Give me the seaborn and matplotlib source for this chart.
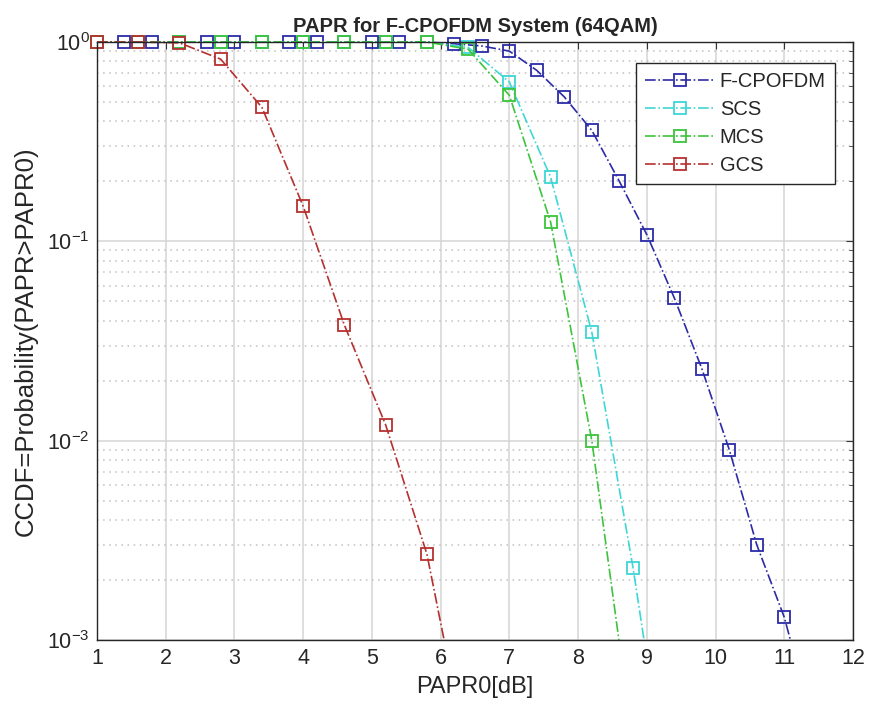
import matplotlib
matplotlib.use("Agg")
import matplotlib.pyplot as plt
import seaborn as sns
from matplotlib.ticker import LogLocator, NullFormatter, FixedLocator
from matplotlib.transforms import Bbox, TransformedBbox

# PAPR threshold (dB) and CCDF values
fcp_x = [1.0, 1.4, 1.8, 2.2, 2.6, 3.0, 3.4, 3.8, 4.2, 4.6, 5.0, 5.4, 5.8, 6.2,
         6.6, 7.0, 7.4, 7.8, 8.2, 8.6, 9.0, 9.4, 9.8, 10.2, 10.6, 11.0, 11.4]
fcp_y = [1, 1, 1, 1, 1, 1, 1, 1, 1, 1, 1, 1, 1, 0.98,
         0.955, 0.90, 0.72, 0.53, 0.36, 0.20, 0.108, 0.052, 0.023, 0.009, 0.003, 0.0013, 0.0004]

scs_x = [1.0, 1.6, 2.2, 2.8, 3.4, 4.0, 4.6, 5.2, 5.8, 6.4, 7.0, 7.6, 8.2, 8.8, 9.4]
scs_y = [1, 1, 1, 1, 1, 1, 1, 1, 1, 0.94, 0.63, 0.21, 0.035, 0.0023, 0.0001]

mcs_x = [1.0, 1.6, 2.2, 2.8, 3.4, 4.0, 4.6, 5.2, 5.8, 6.4, 7.0, 7.6, 8.2, 8.8]
mcs_y = [1, 1, 1, 1, 1, 1, 1, 1, 1, 0.92, 0.54, 0.125, 0.01, 0.0003]

gcs_x = [1.0, 1.6, 2.2, 2.8, 3.4, 4.0, 4.6, 5.2, 5.8, 6.4]
gcs_y = [1, 1, 0.99, 0.82, 0.47, 0.15, 0.038, 0.012, 0.0027, 0.00025]

series = [
    ("F-CPOFDM", fcp_x, fcp_y, "#2b2ba8"),
    ("SCS", scs_x, scs_y, "#3fd6d6"),
    ("MCS", mcs_x, mcs_y, "#3cc43c"),
    ("GCS", gcs_x, gcs_y, "#b5302e"),
]

sns.set_style("white")
plt.rcParams["font.family"] = ["Liberation Sans", "DejaVu Sans"]
plt.rcParams["mathtext.default"] = "regular"

fig = plt.figure(figsize=(8.69, 7.13), dpi=100)
ax = fig.add_axes([0.1116, 0.1024, 0.870, 0.8387])

for name, xs, ys, col in series:
    sns.lineplot(x=xs, y=ys, ax=ax, color=col, label=name, estimator=None, sort=False,
                 linestyle="-.", linewidth=1.2, marker="s", markersize=9,
                 markerfacecolor="none", markeredgecolor=col, markeredgewidth=1.3)

# let markers sitting on the top / left edge show in full, keep bottom clipped
clip = TransformedBbox(Bbox([[-0.03, 0.0], [1.0, 1.03]]), ax.transAxes)
for ln in ax.lines:
    ln.set_clip_box(clip)

ax.set_yscale("log")
ax.set_xlim(1, 12)
ax.set_ylim(1e-3, 1)
ax.xaxis.set_major_locator(FixedLocator(range(1, 13)))
ax.yaxis.set_major_locator(LogLocator(base=10, numticks=10))
ax.yaxis.set_minor_locator(LogLocator(base=10, subs=range(2, 10), numticks=20))
ax.yaxis.set_minor_formatter(NullFormatter())

ax.grid(True, which="major", color="#d4d4d4", linestyle="-", linewidth=1.1)
ax.grid(True, which="minor", axis="y", color="#c0c0c0", linestyle=(0, (1, 3)), linewidth=1.1)
ax.set_axisbelow(True)

ax.tick_params(which="both", direction="in", top=True, right=True, colors="#333333",
               labelcolor="#262626")
ax.tick_params(which="major", length=5, labelsize=15.5)
ax.tick_params(which="minor", length=3)
ax.tick_params(axis="x", pad=6)
ax.tick_params(axis="y", pad=5)
for sp in ax.spines.values():
    sp.set_color("#262626")
    sp.set_linewidth(1.0)

ax.set_xlabel("PAPR0[dB]", fontsize=17, color="#262626", labelpad=5)
ax.set_ylabel("CCDF=Probability(PAPR>PAPR0)", fontsize=18.5, color="#262626", labelpad=7)
ax.set_title("PAPR for F-CPOFDM System (64QAM)", fontsize=14.5, fontweight="bold", pad=7)

leg = ax.legend(loc="upper right", bbox_to_anchor=(0.976, 0.965), borderaxespad=0,
                fontsize=14.5, handlelength=3.4, handletextpad=0.3, labelspacing=0.45,
                fancybox=False, framealpha=1, edgecolor="#262626", borderpad=0.45)
leg.get_frame().set_linewidth(1.0)

fig.savefig("out.png", dpi=100)
